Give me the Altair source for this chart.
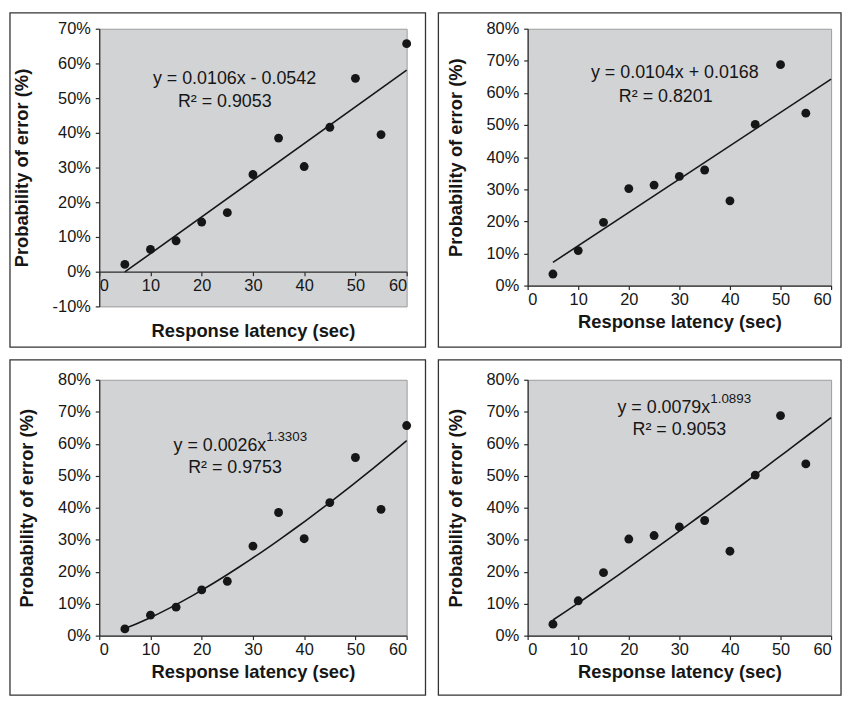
import altair as alt
import pandas as pd

# ---------------- data ----------------
latency_a = [5, 10, 15, 20, 25, 30, 35, 40, 45, 50, 55, 60]
error_a = [0.021, 0.064, 0.089, 0.143, 0.170, 0.280, 0.385, 0.303, 0.416, 0.557, 0.395, 0.657]

latency_b = [5, 10, 15, 20, 25, 30, 35, 40, 45, 50, 55]
error_b = [0.036, 0.109, 0.197, 0.302, 0.313, 0.340, 0.360, 0.264, 0.502, 0.688, 0.537]

x_ticks = [0, 10, 20, 30, 40, 50, 60]
y_ticks_neg = [-0.1, 0.0, 0.1, 0.2, 0.3, 0.4, 0.5, 0.6, 0.7]
y_ticks_pos = [0.0, 0.1, 0.2, 0.3, 0.4, 0.5, 0.6, 0.7, 0.8]

# equation labels: (text, anchor latency, anchor error)
eq1 = ["y = 0.0106x - 0.0542", 26.4, 0.556]
r2_1 = ["R² = 0.9053", 24.5, 0.488]
eq2 = ["y = 0.0104x + 0.0168", 29.1, 0.662]
r2_2 = ["R² = 0.8201", 27.3, 0.588]
eq3 = ["y = 0.0026x", 32.6, 0.592]
exp3 = ["1.3303", 32.6, 0.592]
r2_3 = ["R² = 0.9753", 26.5, 0.524]
eq4 = ["y = 0.0079x", 36.1, 0.711]
exp4 = ["1.0893", 36.1, 0.711]
r2_4 = ["R² = 0.9053", 30.0, 0.644]

FONT = "Liberation Sans, Arial, Helvetica, sans-serif"
INK = "#161616"
PCT = "(datum.value < 0 ? '-' : '') + format(abs(datum.value), '.0%')"


def lbl(row):
    return pd.DataFrame({"label": [row[0]], "latency": [row[1]], "error": [row[2]]})


def panel(lat, err, method, ydom, yticks, w, h, texts, frame, x_offset=0, x_title_pad=5):
    df = pd.DataFrame({"latency": lat, "error": err})
    X = alt.X("latency:Q",
              scale=alt.Scale(domain=[0, 60], nice=False, zero=False),
              axis=alt.Axis(values=x_ticks, title="Response latency (sec)",
                            offset=x_offset, titlePadding=x_title_pad))
    Y = alt.Y("error:Q",
              scale=alt.Scale(domain=ydom, nice=False, zero=False),
              axis=alt.Axis(values=yticks, labelExpr=PCT, title="Probability of error (%)"))

    fl, fr, ft, fb = frame
    frame_layer = alt.Chart(pd.DataFrame({"frame": [1]})).mark_rect(
        fillOpacity=0, stroke="#333333", strokeWidth=1.3
    ).encode(x=alt.value(fl), x2=alt.value(w + fr), y=alt.value(ft), y2=alt.value(h + fb))

    pts = alt.Chart(df).mark_circle(size=80, color=INK, opacity=1).encode(x=X, y=Y)
    fit = alt.Chart(df).transform_regression(
        "latency", "error", method=method, extent=[5, 60]
    ).mark_line(color=INK, strokeWidth=1.6).encode(x=X, y=Y)

    layers = [frame_layer, fit, pts]
    for row, kind in texts:
        if kind == "center":
            mk = alt.Chart(lbl(row)).mark_text(font=FONT, fontSize=18, align="center", color=INK)
        elif kind == "right":
            mk = alt.Chart(lbl(row)).mark_text(font=FONT, fontSize=18, align="right", color=INK)
        else:
            mk = alt.Chart(lbl(row)).mark_text(font=FONT, fontSize=13.5, align="left", dy=-9, color=INK)
        layers.append(mk.encode(x=X, y=Y, text="label:N"))

    return alt.layer(*layers).properties(width=w, height=h)


p1 = panel(latency_a, error_a, "linear", [-0.1, 0.7], y_ticks_neg, 310, 280,
           [(eq1, "center"), (r2_1, "center")], (-90, 19, -16, 41),
           x_offset=-35, x_title_pad=28)
p2 = panel(latency_b, error_b, "linear", [0.0, 0.8], y_ticks_pos, 306, 259,
           [(eq2, "center"), (r2_2, "center")], (-90, 10, -16, 62))
p3 = panel(latency_a, error_a, "pow", [0.0, 0.8], y_ticks_pos, 310, 258,
           [(eq3, "right"), (exp3, "sup"), (r2_3, "center")], (-90, 19, -20, 60))
p4 = panel(latency_b, error_b, "pow", [0.0, 0.8], y_ticks_pos, 306, 258,
           [(eq4, "right"), (exp4, "sup"), (r2_4, "center")], (-90, 10, -20, 60))

chart = alt.concat(p1, p2, p3, p4, columns=2, spacing=9, align="each").properties(
    padding={"left": 0, "top": 0, "right": 0, "bottom": 0},
    background="white",
).configure_view(
    fill="#d2d3d5", stroke="#9c9c9c", strokeWidth=1
).configure_axis(
    grid=False,
    labelFont=FONT, labelFontSize=16.5, labelColor=INK,
    titleFont=FONT, titleFontSize=18.5, titleFontWeight="bold", titleColor=INK,
    domainColor="#2a2a2a", tickColor="#2a2a2a", domainWidth=1.2, tickWidth=1.2, tickSize=4,
).configure_axisX(
    labelPadding=2
).configure_axisY(
    labelPadding=5, titlePadding=21
)

chart.save("out.html", embed_options={"renderer": "svg", "actions": False})
